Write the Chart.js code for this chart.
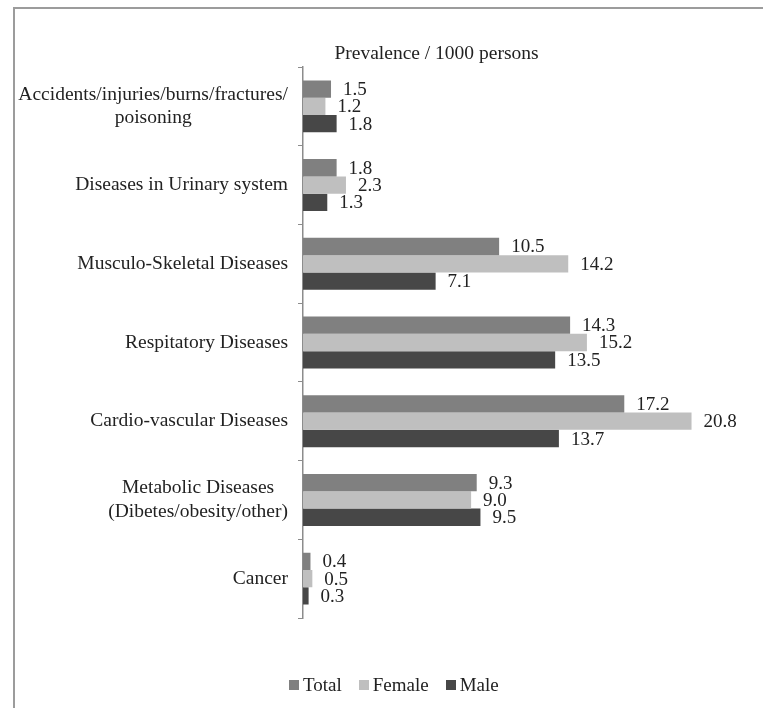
<!DOCTYPE html>
<html>
<head>
<meta charset="utf-8">
<title>Prevalence / 1000 persons</title>
<script src="https://cdn.jsdelivr.net/npm/chart.js@4.4.1/dist/chart.umd.min.js"></script>
<style>
    html, body { margin: 0; padding: 0; background: #fff; }
    body {
        width: 763px; height: 708px; position: relative; overflow: hidden;
        font-family: "Liberation Serif", "Times New Roman", serif; color: #222;
    }
    .frame {
        position: absolute; left: 13px; top: 7px; width: 900px; height: 900px;
        border-left: 2px solid #9c9c9c; border-top: 2px solid #9c9c9c;
    }
    #chartBox { position: absolute; left: 0; top: 0; width: 763px; height: 708px; }
    .legend {
        position: absolute; left: 289px; top: 674px; display: flex;
        font-size: 19px; line-height: 22px;
    }
    .legend__item { display: flex; align-items: center; margin-right: 17px; }
    .legend__swatch { width: 10px; height: 10px; margin-right: 4px; }
</style>
</head>
<body>
<div class="frame"></div>
<div id="chartBox"><canvas id="prevalenceChart" width="763" height="708"></canvas></div>
<div class="legend" id="legend"></div>

<script>
const categories = [
    ['Accidents/injuries/burns/fractures/', 'poisoning'],
    'Diseases in Urinary system',
    'Musculo-Skeletal Diseases',
    'Respitatory Diseases',
    'Cardio-vascular Diseases',
    ['Metabolic Diseases', '(Dibetes/obesity/other)'],
    'Cancer'
];
const seriesNames = ['Total', 'Female', 'Male'];
const totalValues  = [1.5, 1.8, 10.5, 14.3, 17.2, 9.3, 0.4];
const femaleValues = [1.2, 2.3, 14.2, 15.2, 20.8, 9.0, 0.5];
const maleValues   = [1.8, 1.3, 7.1, 13.5, 13.7, 9.5, 0.3];
const seriesColors = ['#808080', '#bfbfbf', '#474747'];
const titleText = 'Prevalence / 1000 persons';

const textColor = '#222';
const axisColor = '#8c8c8c';
const serif = '"Liberation Serif", "Times New Roman", serif';

// category labels, data labels and the title drawn on the canvas
const textLayer = {
    id: 'textLayer',
    afterDatasetsDraw(chart) {
        const ctx = chart.ctx;
        ctx.save();
        ctx.fillStyle = textColor;
        ctx.textBaseline = 'middle';

        ctx.font = `19px ${serif}`;
        ctx.textAlign = 'left';
        chart.data.datasets.forEach((ds, di) => {
            chart.getDatasetMeta(di).data.forEach((bar, i) => {
                ctx.fillText(ds.data[i].toFixed(1), bar.x + 12, bar.y + 1);
            });
        });

        const yScale = chart.scales.y;
        ctx.font = `19.5px ${serif}`;
        ctx.textAlign = 'center';
        categories.forEach((label, i) => {
            const lines = Array.isArray(label) ? label : [label];
            const widest = Math.max(...lines.map(l => ctx.measureText(l).width));
            const cx = 288 - widest / 2;
            const cy = yScale.getPixelForValue(i);
            lines.forEach((line, k) => {
                ctx.fillText(line, cx, cy + (k - (lines.length - 1) / 2) * 23.3);
            });
        });

        ctx.fillText(titleText, 436.5, 54);
        ctx.restore();
    }
};

const ctx = document.getElementById('prevalenceChart').getContext('2d');
new Chart(ctx, {
    type: 'bar',
    data: {
        labels: categories,
        datasets: [totalValues, femaleValues, maleValues].map((values, i) => ({
            label: seriesNames[i],
            data: values,
            backgroundColor: seriesColors[i],
            borderWidth: 0,
            categoryPercentage: 0.66,
            barPercentage: 1.0
        }))
    },
    options: {
        indexAxis: 'y',
        responsive: false,
        animation: false,
        devicePixelRatio: 1,
        layout: { padding: { top: 67, bottom: 90, left: 0, right: 11.7 } },
        plugins: {
            legend: { display: false },
            title: { display: false },
            tooltip: { enabled: false }
        },
        scales: {
            x: { display: false, min: 0, max: 24 },
            y: {
                grid: { drawOnChartArea: false, drawTicks: true, tickLength: 5, color: axisColor, offset: true },
                border: { color: axisColor, width: 1.5 },
                ticks: { display: false },
                afterFit(scale) { scale.width = 303; }
            }
        }
    },
    plugins: [textLayer]
});

document.getElementById('legend').innerHTML = seriesNames.map((name, i) => `
    <div class="legend__item">
        <span class="legend__swatch" style="background:${seriesColors[i]}"></span>${name}
    </div>`).join('');
</script>
</body>
</html>
